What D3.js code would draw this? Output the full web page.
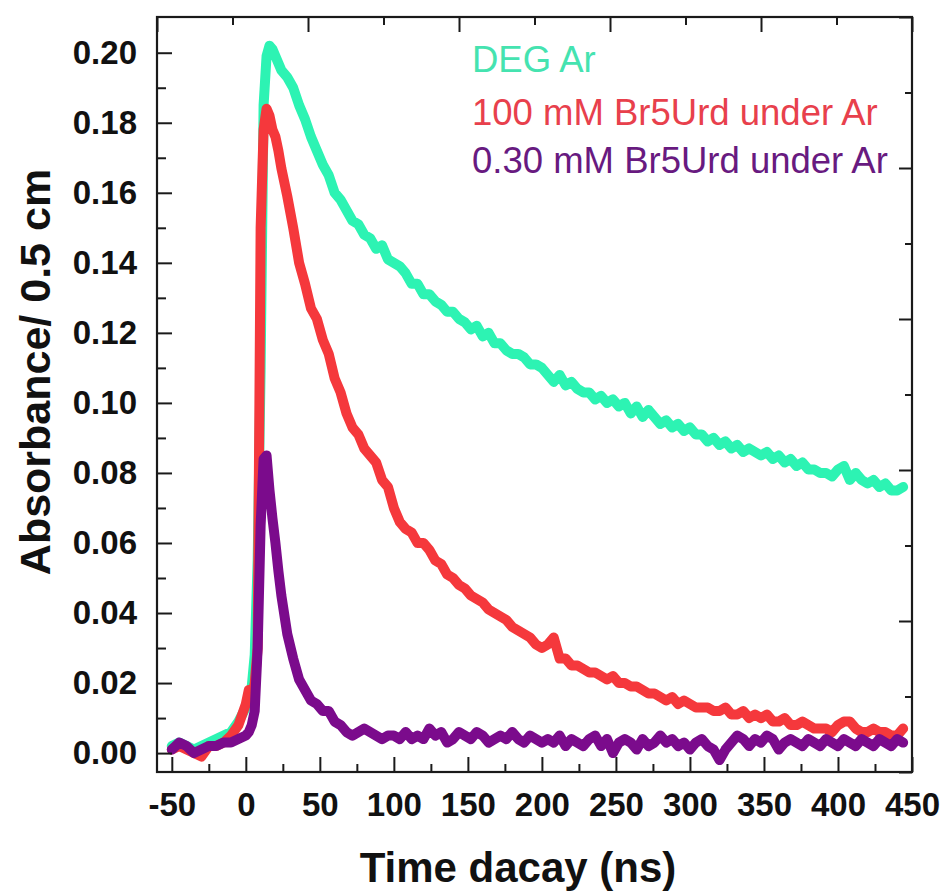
<!DOCTYPE html>
<html>
<head>
<meta charset="utf-8">
<script src="https://cdn.jsdelivr.net/npm/d3@7"></script>
<style>
  body { margin: 0; background: #ffffff; }
  svg { display: block; }
</style>
</head>
<body>
<svg id="chart" width="948" height="894"></svg>
<script>
// Sampling times (ns) shared by the three transient traces
const times = [
  -50, -45, -40, -35, -30, -25, -20, -15, -10, -5, 0,
  2, 4, 6, 8, 10, 12, 14, 16, 18, 20, 22, 24,
  28, 32, 36, 40, 44, 48, 52, 56, 60, 64,
  68, 72, 76, 80, 84, 88, 92, 96, 100, 104,
  108, 112, 116, 120, 124, 128, 132, 136, 140, 144,
  148, 152, 156, 160, 164, 168, 172, 176, 180, 184,
  188, 192, 196, 200, 204, 208, 212, 216, 220, 224,
  228, 232, 236, 240, 244, 248, 252, 256, 260, 264,
  268, 272, 276, 280, 284, 288, 292, 296, 300, 304,
  308, 312, 316, 320, 324, 328, 332, 336, 340, 344,
  348, 352, 356, 360, 364, 368, 372, 376, 380, 384,
  388, 392, 396, 400, 404, 408, 412, 416, 420, 424,
  428, 432, 436, 440, 444
];

// Absorbance, DEG under Ar
const degAr = [
  0.002, 0.003, 0.002, 0.001, 0.002, 0.003, 0.004, 0.005, 0.006, 0.009, 0.013,
  0.015, 0.019, 0.028, 0.055, 0.110, 0.185, 0.199, 0.202, 0.201, 0.199, 0.197, 0.195,
  0.193, 0.190, 0.185, 0.181, 0.176, 0.172, 0.168, 0.165, 0.160, 0.158,
  0.155, 0.152, 0.151, 0.148, 0.147, 0.144, 0.145, 0.141, 0.140, 0.139,
  0.137, 0.134, 0.134, 0.131, 0.131, 0.129, 0.128, 0.126, 0.126, 0.124,
  0.123, 0.121, 0.122, 0.119, 0.120, 0.117, 0.117, 0.115, 0.114, 0.114,
  0.113, 0.111, 0.111, 0.110, 0.108, 0.106, 0.108, 0.105, 0.106, 0.104,
  0.103, 0.103, 0.101, 0.102, 0.100, 0.101, 0.099, 0.100, 0.097, 0.099,
  0.096, 0.098, 0.096, 0.094, 0.095, 0.093, 0.094, 0.092, 0.093, 0.091,
  0.091, 0.089, 0.090, 0.088, 0.089, 0.087, 0.088, 0.086, 0.087, 0.086,
  0.085, 0.086, 0.084, 0.085, 0.083, 0.084, 0.082, 0.083, 0.081, 0.081,
  0.080, 0.080, 0.079, 0.081, 0.082, 0.078, 0.080, 0.078, 0.077, 0.078,
  0.076, 0.077, 0.075, 0.075, 0.076
];

// Absorbance, 100 mM Br5Urd under Ar
const br5Urd100 = [
  0.001, 0.002, 0.001, 0.000, -0.001, 0.002, 0.002, 0.003, 0.005, 0.008, 0.014,
  0.018, 0.016, 0.020, 0.030, 0.150, 0.178, 0.184, 0.182, 0.178, 0.176, 0.172, 0.167,
  0.159, 0.150, 0.140, 0.134, 0.127, 0.124, 0.118, 0.114, 0.107, 0.103,
  0.097, 0.093, 0.091, 0.087, 0.085, 0.083, 0.078, 0.076, 0.070, 0.066,
  0.064, 0.063, 0.060, 0.060, 0.058, 0.055, 0.054, 0.051, 0.050, 0.048,
  0.047, 0.045, 0.044, 0.043, 0.041, 0.040, 0.039, 0.038, 0.036, 0.035,
  0.034, 0.033, 0.031, 0.030, 0.031, 0.033, 0.027, 0.027, 0.025, 0.025,
  0.024, 0.023, 0.023, 0.022, 0.021, 0.022, 0.020, 0.020, 0.019, 0.019,
  0.018, 0.017, 0.017, 0.016, 0.015, 0.016, 0.014, 0.015, 0.014, 0.013,
  0.013, 0.013, 0.012, 0.012, 0.013, 0.011, 0.011, 0.012, 0.010, 0.011,
  0.010, 0.011, 0.009, 0.009, 0.010, 0.008, 0.008, 0.009, 0.008, 0.007,
  0.007, 0.007, 0.006, 0.008, 0.009, 0.009, 0.007, 0.006, 0.006, 0.007,
  0.006, 0.006, 0.005, 0.005, 0.007
];

// Absorbance, 0.30 mM Br5Urd under Ar
const br5Urd030 = [
  0.001, 0.003, 0.002, 0.000, 0.001, 0.002, 0.002, 0.003, 0.003, 0.004, 0.005,
  0.006, 0.008, 0.012, 0.030, 0.065, 0.084, 0.085, 0.075, 0.067, 0.060, 0.052, 0.045,
  0.034, 0.027, 0.021, 0.018, 0.015, 0.014, 0.012, 0.012, 0.009, 0.008,
  0.006, 0.005, 0.006, 0.007, 0.006, 0.005, 0.004, 0.005, 0.005, 0.004,
  0.006, 0.004, 0.005, 0.004, 0.007, 0.005, 0.006, 0.003, 0.004, 0.006,
  0.005, 0.004, 0.006, 0.005, 0.003, 0.004, 0.005, 0.004, 0.006, 0.004,
  0.003, 0.005, 0.004, 0.003, 0.004, 0.003, 0.005, 0.002, 0.004, 0.003,
  0.002, 0.004, 0.005, 0.002, 0.004, 0.000, 0.003, 0.004, 0.003, 0.001,
  0.004, 0.002, 0.003, 0.005, 0.003, 0.004, 0.002, 0.003, 0.001, 0.003,
  0.004, 0.002, 0.001, -0.002, 0.001, 0.003, 0.005, 0.004, 0.002, 0.004,
  0.003, 0.005, 0.004, 0.001, 0.003, 0.004, 0.003, 0.002, 0.004, 0.003,
  0.002, 0.004, 0.003, 0.002, 0.004, 0.003, 0.002, 0.004, 0.003, 0.002,
  0.004, 0.003, 0.002, 0.004, 0.003
];

const seriesNames  = ["DEG Ar", "100 mM Br5Urd under Ar", "0.30 mM Br5Urd under Ar"];
const lineColors   = ["#2df3b3", "#f5383c", "#7b0b8c"];
const labelColors  = ["#45e3b0", "#e8404c", "#681a80"];

const xMajorTicks = [-50, 0, 50, 100, 150, 200, 250, 300, 350, 400, 450];
const xMinorTicks = [-25, 25, 75, 125, 175, 225, 275, 325, 375, 425];
const yMajorTicks = [0, 0.02, 0.04, 0.06, 0.08, 0.10, 0.12, 0.14, 0.16, 0.18, 0.20];
const yMinorTicks = [0.01, 0.03, 0.05, 0.07, 0.09, 0.11, 0.13, 0.15, 0.17, 0.19];
const topMajorTicks = [-50, 50, 150, 250, 350, 450];
const topMinorTicks = [0, 100, 200, 300, 400];
const rightMajorTicks = [0, 0.04, 0.08, 0.12, 0.16, 0.20];
const rightMinorTicks = [0.02, 0.06, 0.10, 0.14, 0.18];

const xTitle = "Time dacay (ns)";
const yTitle = "Absorbance/ 0.5 cm";

// ---- layout ----
const frame = { left: 157, top: 17, right: 912, bottom: 772 };
const FONT = "'Liberation Sans', Arial, Helvetica, sans-serif";

const x = d3.scaleLinear().domain([-60, 450]).range([frame.left, frame.right]);
const y = d3.scaleLinear().domain([-0.0054, 0.2102]).range([frame.bottom, frame.top]);
// The opposite frame edges carry their own, unlinked scales
const xTop = d3.scaleLinear().domain([-50, 450]).range([frame.left, frame.right]);
const yRight = d3.scaleLinear().domain([0, 0.20]).range([frame.bottom, frame.top]);

const svg = d3.select("#chart");

// ---- traces ----
const traces = [degAr, br5Urd100, br5Urd030].map((vals, i) => ({
  name: seriesNames[i],
  color: lineColors[i],
  points: times.map((t, j) => ({ t, v: vals[j] }))
}));

const line = d3.line().x(d => x(d.t)).y(d => y(d.v));

svg.append("g").selectAll("path")
  .data(traces)
  .join("path")
  .attr("d", d => line(d.points))
  .attr("fill", "none")
  .attr("stroke", d => d.color)
  .attr("stroke-width", 10)
  .attr("stroke-linejoin", "round")
  .attr("stroke-linecap", "round");

// ---- axes ----
function styleAxis(g) {
  g.select(".domain").remove();
  g.selectAll(".tick line").attr("stroke", "#1a1a1a").attr("stroke-width", 2);
  g.selectAll(".tick text")
    .attr("fill", "#111")
    .style("font-family", FONT)
    .style("font-weight", "bold")
    .style("font-size", "33px");
}

// bottom (plain hyphen for negative labels)
svg.append("g")
  .attr("transform", `translate(0,${frame.bottom})`)
  .call(d3.axisBottom(x).tickValues(xMajorTicks).tickSize(-15).tickPadding(21).tickFormat(d => String(d)))
  .call(styleAxis);
svg.append("g")
  .attr("transform", `translate(0,${frame.bottom})`)
  .call(d3.axisBottom(x).tickValues(xMinorTicks).tickSize(-8).tickFormat(""))
  .call(styleAxis);

// left
svg.append("g")
  .attr("transform", `translate(${frame.left},0)`)
  .call(d3.axisLeft(y).tickValues(yMajorTicks).tickSize(-15).tickPadding(20).tickFormat(d => d.toFixed(2)))
  .call(styleAxis);
svg.append("g")
  .attr("transform", `translate(${frame.left},0)`)
  .call(d3.axisLeft(y).tickValues(yMinorTicks).tickSize(-9).tickFormat(""))
  .call(styleAxis);

// top
svg.append("g")
  .attr("transform", `translate(0,${frame.top})`)
  .call(d3.axisTop(xTop).tickValues(topMajorTicks).tickSize(-15).tickFormat(""))
  .call(styleAxis);
svg.append("g")
  .attr("transform", `translate(0,${frame.top})`)
  .call(d3.axisTop(xTop).tickValues(topMinorTicks).tickSize(-8).tickFormat(""))
  .call(styleAxis);

// right
svg.append("g")
  .attr("transform", `translate(${frame.right},0)`)
  .call(d3.axisRight(yRight).tickValues(rightMajorTicks).tickSize(-13).tickFormat(""))
  .call(styleAxis);
svg.append("g")
  .attr("transform", `translate(${frame.right},0)`)
  .call(d3.axisRight(yRight).tickValues(rightMinorTicks).tickSize(-7).tickFormat(""))
  .call(styleAxis);

// frame
svg.append("rect")
  .attr("x", frame.left)
  .attr("y", frame.top)
  .attr("width", frame.right - frame.left)
  .attr("height", frame.bottom - frame.top)
  .attr("fill", "none")
  .attr("stroke", "#1a1a1a")
  .attr("stroke-width", 2.2);

// ---- titles ----
svg.append("text")
  .attr("x", 518)
  .attr("y", 882)
  .attr("text-anchor", "middle")
  .attr("fill", "#111")
  .style("font-family", FONT)
  .style("font-weight", "bold")
  .style("font-size", "42px")
  .text(xTitle);

svg.append("text")
  .attr("transform", "translate(50,372) rotate(-90)")
  .attr("text-anchor", "middle")
  .attr("fill", "#111")
  .style("font-family", FONT)
  .style("font-weight", "bold")
  .style("font-size", "43px")
  .text(yTitle);

// ---- legend labels ----
const legendBaselines = [72, 125, 173];
svg.append("g").selectAll("text")
  .data(seriesNames)
  .join("text")
  .attr("x", 472)
  .attr("y", (d, i) => legendBaselines[i])
  .attr("fill", (d, i) => labelColors[i])
  .style("font-family", FONT)
  .style("font-size", "36.5px")
  .text(d => d);
</script>
</body>
</html>
